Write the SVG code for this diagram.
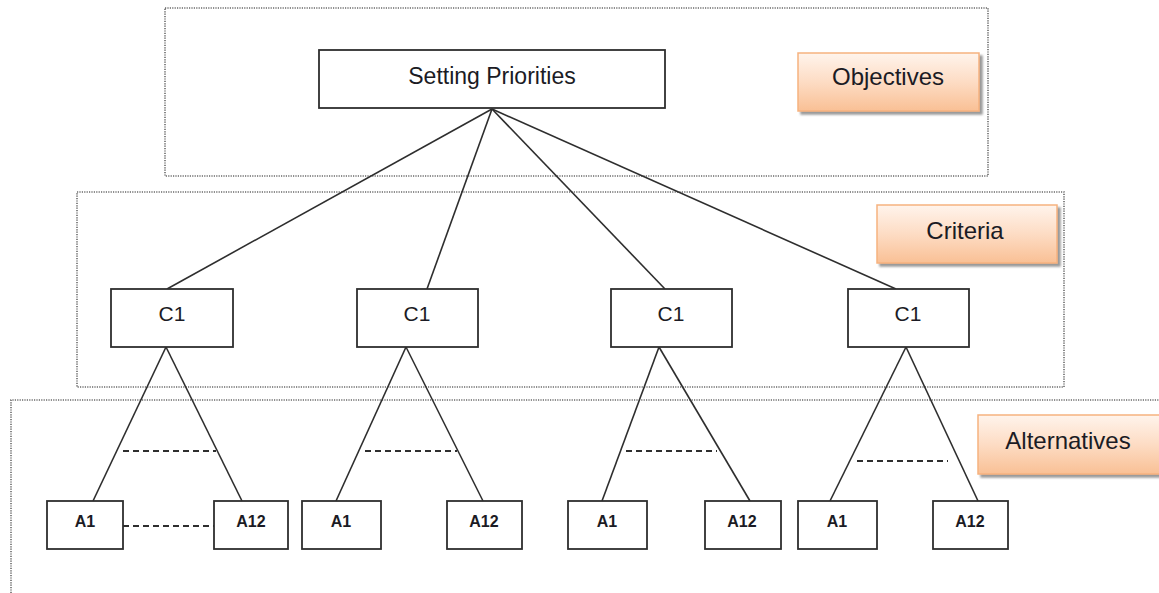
<svg xmlns="http://www.w3.org/2000/svg" width="1159" height="593" viewBox="0 0 1159 593">
  <defs>
    <linearGradient id="peach" x1="0" y1="0" x2="0" y2="1">
      <stop offset="0" stop-color="#fff4ec"/>
      <stop offset="0.5" stop-color="#fddcc4"/>
      <stop offset="1" stop-color="#f9c095"/>
    </linearGradient>
    <filter id="shadow" x="-10%" y="-10%" width="125%" height="135%">
      <feDropShadow dx="3" dy="3" stdDeviation="1" flood-color="#6e6e6e" flood-opacity="0.7"/>
    </filter>
    <style>
      .zone { fill: none; stroke: #6a6a6a; stroke-width: 1.6; stroke-dasharray: 1.2 1.2; }
      .box { fill: #ffffff; stroke: #2e2e2e; stroke-width: 1.8; }
      .tag { fill: url(#peach); stroke: #f6b27f; stroke-width: 1.5; filter: url(#shadow); }
      .txt { font-family: "Liberation Sans", Arial, sans-serif; fill: #1b1b24; text-anchor: middle; }
      .goal { font-size: 23px; }
      .crit { font-size: 21px; }
      .alt { font-size: 16px; font-weight: bold; }
      .tagtxt { font-size: 24px; }
      .edge { stroke: #2e2e2e; stroke-width: 1.6; fill: none; }
      .gap { stroke: #2e2e2e; stroke-width: 2; stroke-dasharray: 6 4; fill: none; }
    </style>
  </defs>

  <rect width="1159" height="593" fill="#ffffff"/>

  <!-- level zones -->
  <g id="zones">
    <rect class="zone" x="165" y="8" width="823" height="168"/>
    <rect class="zone" x="77" y="192" width="987" height="195"/>
    <path class="zone" d="M11 593 V400 H1159"/>
  </g>

  <!-- level tags -->
  <g id="tag-objectives">
    <rect class="tag" x="798" y="53" width="181" height="58"/>
    <text class="txt tagtxt" x="888" y="85">Objectives</text>
  </g>
  <g id="tag-criteria">
    <rect class="tag" x="877" y="205" width="180" height="58"/>
    <text class="txt tagtxt" x="965" y="239">Criteria</text>
  </g>
  <g id="tag-alternatives">
    <rect class="tag" x="978" y="415" width="185" height="59"/>
    <text class="txt tagtxt" x="1068" y="449">Alternatives</text>
  </g>

  <!-- connectors -->
  <g id="connectors">
    <line class="edge" x1="492" y1="109" x2="167" y2="289"/>
    <line class="edge" x1="492" y1="109" x2="427" y2="289"/>
    <line class="edge" x1="492" y1="109" x2="665" y2="289"/>
    <line class="edge" x1="492" y1="109" x2="896" y2="289"/>

    <line class="edge" x1="166" y1="347" x2="93" y2="501"/>
    <line class="edge" x1="166" y1="347" x2="242" y2="501"/>
    <line class="edge" x1="406" y1="347" x2="336" y2="501"/>
    <line class="edge" x1="406" y1="347" x2="483" y2="501"/>
    <line class="edge" x1="659" y1="347" x2="602" y2="501"/>
    <line class="edge" x1="659" y1="347" x2="750" y2="501"/>
    <line class="edge" x1="906" y1="347" x2="830" y2="501"/>
    <line class="edge" x1="906" y1="347" x2="978" y2="501"/>

    <line class="gap" x1="123" y1="451" x2="216" y2="451"/>
    <line class="gap" x1="123" y1="526" x2="214" y2="526"/>
    <line class="gap" x1="365" y1="451" x2="457" y2="451"/>
    <line class="gap" x1="626" y1="451" x2="717" y2="451"/>
    <line class="gap" x1="857" y1="461" x2="948" y2="461"/>
  </g>

  <!-- goal -->
  <g id="goal">
    <rect class="box" x="319" y="50" width="346" height="58"/>
    <text class="txt goal" x="492" y="84">Setting Priorities</text>
  </g>

  <!-- criteria -->
  <g id="c1-a">
    <rect class="box" x="111" y="289" width="122" height="58"/>
    <text class="txt crit" x="172" y="321">C1</text>
  </g>
  <g id="c1-b">
    <rect class="box" x="357" y="289" width="121" height="58"/>
    <text class="txt crit" x="417" y="321">C1</text>
  </g>
  <g id="c1-c">
    <rect class="box" x="611" y="289" width="121" height="58"/>
    <text class="txt crit" x="671" y="321">C1</text>
  </g>
  <g id="c1-d">
    <rect class="box" x="848" y="289" width="121" height="58"/>
    <text class="txt crit" x="908" y="321">C1</text>
  </g>

  <!-- alternatives -->
  <g id="a1-a">
    <rect class="box" x="47" y="501" width="76" height="48"/>
    <text class="txt alt" x="85" y="527">A1</text>
  </g>
  <g id="a12-a">
    <rect class="box" x="214" y="501" width="74" height="48"/>
    <text class="txt alt" x="251" y="527">A12</text>
  </g>
  <g id="a1-b">
    <rect class="box" x="302" y="501" width="79" height="48"/>
    <text class="txt alt" x="341" y="527">A1</text>
  </g>
  <g id="a12-b">
    <rect class="box" x="447" y="501" width="75" height="48"/>
    <text class="txt alt" x="484" y="527">A12</text>
  </g>
  <g id="a1-c">
    <rect class="box" x="568" y="501" width="79" height="48"/>
    <text class="txt alt" x="607" y="527">A1</text>
  </g>
  <g id="a12-c">
    <rect class="box" x="705" y="501" width="76" height="48"/>
    <text class="txt alt" x="742" y="527">A12</text>
  </g>
  <g id="a1-d">
    <rect class="box" x="798" y="501" width="79" height="48"/>
    <text class="txt alt" x="837" y="527">A1</text>
  </g>
  <g id="a12-d">
    <rect class="box" x="933" y="501" width="75" height="48"/>
    <text class="txt alt" x="970" y="527">A12</text>
  </g>
</svg>
